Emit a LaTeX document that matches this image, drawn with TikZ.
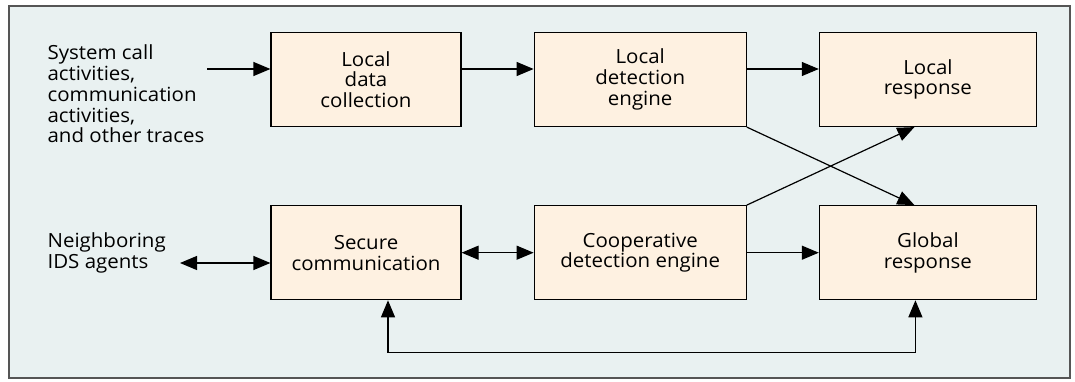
\documentclass[tikz,border=0pt]{standalone}
\usepackage{fontspec}
\setmainfont{Open Sans}[FakeStretch=1.05]
\usetikzlibrary{arrows.meta,positioning}
\definecolor{panel}{RGB}{233,241,241}
\definecolor{boxfill}{RGB}{254,241,225}
\definecolor{framegray}{RGB}{85,85,85}
\begin{document}
\begin{tikzpicture}[>={Triangle[length=17pt,width=14pt]},x=1pt,y=1pt,
                    line width=1.2pt,node distance=72pt,
                    block/.style={rectangle,draw,fill=boxfill,minimum height=94pt,
                                  align=center,inner sep=0pt,font=\fontsize{19.5}{20.7}\selectfont},
                    txt/.style={align=left,inner sep=0pt,anchor=west,font=\fontsize{19.5}{20.7}\selectfont}]
  \useasboundingbox (0,0) rectangle (1075,381);
  \draw[framegray,fill=panel,line width=1.5pt] (9,3) rectangle (1070,375);
  \node[block,minimum width=190pt] (ldc) at (366,301.5) {Local\\data\\collection};
  \node[block,minimum width=212pt] (lde) [right=of ldc] {Local\\detection\\engine};
  \node[block,minimum width=217pt] (lresp) [right=of lde] {Local\\response};
  \node[block,minimum width=190pt] (sec) [below=78pt of ldc] {Secure\\communication};
  \node[block,minimum width=212pt] (coop) [below=78pt of lde] {Cooperative\\detection engine};
  \node[block,minimum width=217pt] (gresp) [below=78pt of lresp] {Global\\response};
  \node[txt] (trace) at (47,287) {System call\\activities,\\communication\\activities,\\and other traces};
  \node[txt] (nbr) at (47,128) {Neighboring\\IDS agents};
  \coordinate (in) at (207,312);
  \coordinate (out) at (180,118);
  \draw[->] (in) -- (in -| ldc.west);
  \draw[->] ([yshift=10.5pt]ldc.east) -- ([yshift=10.5pt]lde.west);
  \draw[->] ([yshift=10.5pt]lde.east) -- ([yshift=10.5pt]lresp.west);
  \draw[->] (lde.south east) -- ([xshift=-13.5pt]gresp.north);
  \draw[->] (coop.north east) -- ([xshift=-13.5pt]lresp.south);
  \draw[<->] (out) -- (out -| sec.west);
  \draw[<->] (sec) -- (coop);
  \draw[->] (coop) -- (gresp);
  \draw[<->] ([xshift=22pt]sec.south) -- ++(0,-52pt) -| ([xshift=-12.5pt]gresp.south);
\end{tikzpicture}
\end{document}
